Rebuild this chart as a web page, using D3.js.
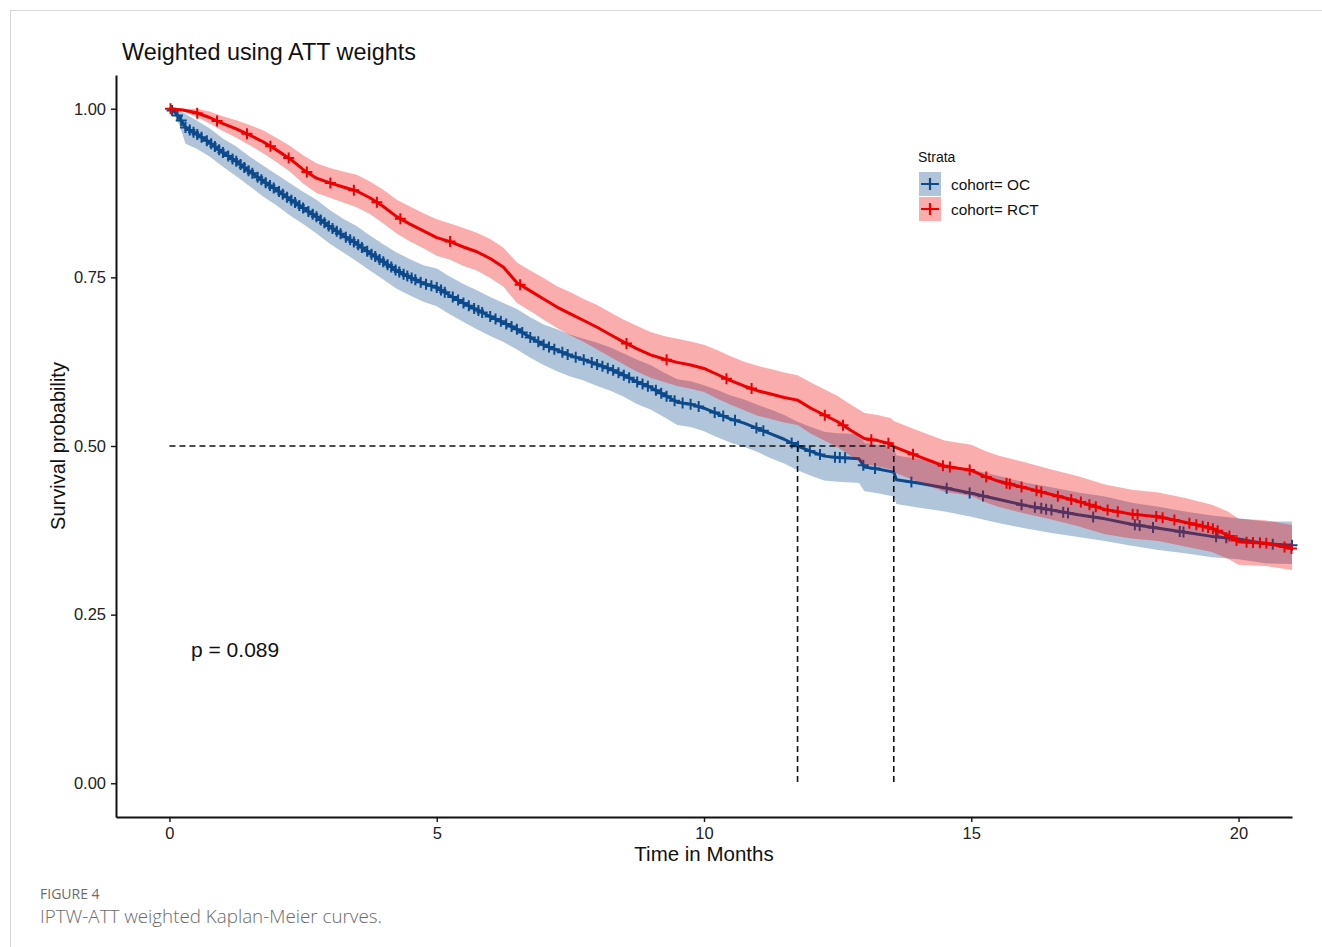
<!DOCTYPE html>
<html lang="en">
  <head>
    <meta charset="UTF-8" />
    <title>IPTW-ATT weighted Kaplan-Meier curves</title>
    <style type="text/css">
      html,
      body {
        margin: 0;
        padding: 0;
        background: #fff;
      }

      svg {
        display: block;
        font-family: "Liberation Sans", Arial, sans-serif;
      }

      .caption {
        font-family: "Open Sans", sans-serif;
        fill: #6b6b6b;
      }
    </style>
  </head>
  <body>
    <svg id="chart" width="1322" height="947"></svg>

    <script src="https://cdn.jsdelivr.net/npm/d3@7"></script>
    <script>
      // === Data === //

      var ocTime = [0, 0.1, 0.2, 0.3, 0.5, 0.75, 1, 1.25, 1.5, 1.75, 2, 2.25, 2.5, 2.75, 3, 3.25, 3.5, 3.75, 4, 4.25, 4.5, 4.75, 5, 5.25, 5.5, 5.75, 6, 6.25, 6.5, 6.75, 7, 7.25, 7.5, 7.75, 8, 8.25, 8.5, 8.75, 9, 9.25, 9.5, 9.75, 10, 10.25, 10.5, 10.75, 11, 11.25, 11.5, 11.75, 12, 12.25, 12.5, 12.75, 12.9, 13, 13.25, 13.5, 13.55, 13.6, 14, 14.5, 15, 15.5, 16, 16.5, 17, 17.5, 18, 18.5, 19, 19.5, 20, 20.5, 21];
      var ocSurv = [1, 0.995, 0.985, 0.972, 0.963, 0.95, 0.935, 0.922, 0.907, 0.893, 0.88, 0.866, 0.853, 0.84, 0.825, 0.812, 0.8, 0.786, 0.773, 0.76, 0.75, 0.741, 0.735, 0.723, 0.712, 0.702, 0.692, 0.683, 0.673, 0.661, 0.65, 0.642, 0.634, 0.628, 0.621, 0.614, 0.605, 0.595, 0.587, 0.576, 0.565, 0.562, 0.556, 0.548, 0.54, 0.534, 0.526, 0.518, 0.51, 0.5, 0.492, 0.485, 0.483, 0.482, 0.481, 0.469, 0.466, 0.462, 0.461, 0.45, 0.445, 0.438, 0.43, 0.421, 0.412, 0.405, 0.398, 0.392, 0.384, 0.378, 0.372, 0.366, 0.362, 0.355, 0.353];
      var ocLower = [1, 0.99, 0.973, 0.948, 0.941, 0.929, 0.914, 0.9, 0.885, 0.87, 0.857, 0.842, 0.829, 0.815, 0.8, 0.787, 0.774, 0.76, 0.747, 0.733, 0.723, 0.714, 0.707, 0.695, 0.684, 0.673, 0.663, 0.654, 0.643, 0.631, 0.62, 0.611, 0.603, 0.597, 0.589, 0.582, 0.573, 0.562, 0.554, 0.543, 0.531, 0.528, 0.522, 0.513, 0.505, 0.499, 0.491, 0.482, 0.474, 0.464, 0.456, 0.449, 0.447, 0.446, 0.445, 0.433, 0.43, 0.426, 0.425, 0.414, 0.409, 0.403, 0.395, 0.386, 0.378, 0.371, 0.365, 0.359, 0.352, 0.346, 0.341, 0.335, 0.332, 0.326, 0.325];
      var ocUpper = [1, 1, 0.997, 0.992, 0.983, 0.971, 0.956, 0.944, 0.929, 0.916, 0.903, 0.89, 0.877, 0.865, 0.85, 0.837, 0.826, 0.812, 0.799, 0.787, 0.777, 0.768, 0.763, 0.751, 0.74, 0.731, 0.721, 0.712, 0.703, 0.691, 0.68, 0.673, 0.665, 0.659, 0.653, 0.646, 0.637, 0.628, 0.62, 0.609, 0.599, 0.596, 0.59, 0.583, 0.575, 0.569, 0.561, 0.554, 0.546, 0.536, 0.528, 0.521, 0.519, 0.518, 0.517, 0.505, 0.502, 0.498, 0.497, 0.486, 0.481, 0.473, 0.465, 0.456, 0.446, 0.439, 0.431, 0.425, 0.416, 0.41, 0.403, 0.397, 0.393, 0.388, 0.388];
      var ocCensor = [0.05, 0.15, 0.22, 0.3, 0.38, 0.45, 0.52, 0.6, 0.7, 0.78, 0.85, 0.93, 1, 1.1, 1.18, 1.25, 1.33, 1.4, 1.48, 1.55, 1.65, 1.72, 1.8, 1.88, 1.95, 2.05, 2.12, 2.2, 2.28, 2.35, 2.43, 2.5, 2.6, 2.68, 2.75, 2.83, 2.9, 2.98, 3.05, 3.13, 3.2, 3.3, 3.38, 3.45, 3.53, 3.6, 3.7, 3.78, 3.85, 3.93, 4, 4.08, 4.15, 4.23, 4.3, 4.38, 4.45, 4.53, 4.6, 4.7, 4.8, 4.9, 5, 5.08, 5.15, 5.3, 5.4, 5.5, 5.6, 5.7, 5.78, 5.85, 6, 6.1, 6.2, 6.3, 6.4, 6.5, 6.6, 6.75, 6.9, 7, 7.1, 7.2, 7.35, 7.45, 7.6, 7.75, 7.9, 8, 8.1, 8.2, 8.3, 8.4, 8.5, 8.6, 8.75, 8.85, 8.95, 9.1, 9.2, 9.3, 9.45, 9.6, 9.75, 9.9, 10.2, 10.36, 10.58, 10.98, 11.11, 11.64, 11.76, 11.98, 12.17, 12.45, 12.54, 12.64, 12.98, 13.2, 13.88, 14.54, 14.97, 15.22, 15.94, 16.19, 16.31, 16.4, 16.5, 16.72, 16.81, 17.28, 18.06, 18.15, 18.4, 18.9, 18.97, 19.58, 19.77, 20.64, 21];

      var rctTime = [0, 0.25, 0.5, 0.75, 1, 1.25, 1.5, 1.75, 2, 2.25, 2.5, 2.75, 3, 3.25, 3.5, 3.75, 4, 4.25, 4.5, 4.75, 5, 5.25, 5.5, 5.75, 6, 6.25, 6.5, 6.75, 7, 7.25, 7.5, 7.75, 8, 8.25, 8.5, 8.75, 9, 9.25, 9.5, 9.75, 10, 10.25, 10.5, 10.75, 11, 11.25, 11.5, 11.75, 12, 12.25, 12.5, 12.75, 13, 13.25, 13.5, 13.55, 14, 14.5, 15, 15.25, 15.5, 16, 16.5, 17, 17.5, 18, 18.5, 19, 19.5, 19.8, 20, 20.5, 21];
      var rctSurv = [1, 0.998, 0.994, 0.987, 0.978, 0.97, 0.961, 0.951, 0.939, 0.926, 0.91, 0.897, 0.89, 0.884, 0.878, 0.868, 0.855, 0.84, 0.829, 0.819, 0.809, 0.803, 0.795, 0.788, 0.778, 0.765, 0.742, 0.73, 0.718, 0.706, 0.696, 0.686, 0.676, 0.665, 0.654, 0.644, 0.635, 0.629, 0.624, 0.62, 0.615, 0.606, 0.597, 0.589, 0.582, 0.577, 0.572, 0.568, 0.556, 0.546, 0.536, 0.523, 0.511, 0.508, 0.503, 0.499, 0.485, 0.47, 0.464, 0.455, 0.448, 0.438, 0.428, 0.418, 0.406, 0.399, 0.395, 0.387, 0.378, 0.368, 0.358, 0.356, 0.348];
      var rctLower = [1, 0.996, 0.988, 0.978, 0.967, 0.957, 0.946, 0.934, 0.921, 0.907, 0.889, 0.875, 0.868, 0.861, 0.854, 0.844, 0.83, 0.815, 0.803, 0.793, 0.782, 0.776, 0.767, 0.76, 0.749, 0.736, 0.712, 0.7, 0.687, 0.675, 0.664, 0.654, 0.643, 0.632, 0.621, 0.61, 0.601, 0.595, 0.589, 0.585, 0.58, 0.57, 0.561, 0.553, 0.545, 0.54, 0.535, 0.531, 0.518, 0.508, 0.498, 0.485, 0.473, 0.47, 0.465, 0.461, 0.447, 0.432, 0.426, 0.417, 0.41, 0.4, 0.391, 0.381, 0.369, 0.363, 0.359, 0.351, 0.343, 0.333, 0.324, 0.322, 0.316];
      var rctUpper = [1, 1, 1, 0.996, 0.989, 0.983, 0.976, 0.968, 0.957, 0.945, 0.931, 0.919, 0.912, 0.907, 0.902, 0.892, 0.88, 0.865, 0.855, 0.845, 0.836, 0.83, 0.823, 0.816, 0.807, 0.794, 0.772, 0.76, 0.749, 0.737, 0.728, 0.718, 0.709, 0.698, 0.687, 0.678, 0.669, 0.663, 0.659, 0.655, 0.65, 0.642, 0.633, 0.625, 0.619, 0.614, 0.609, 0.605, 0.594, 0.584, 0.574, 0.561, 0.549, 0.546, 0.541, 0.537, 0.523, 0.508, 0.502, 0.493, 0.486, 0.476, 0.465, 0.455, 0.443, 0.435, 0.431, 0.423, 0.413, 0.403, 0.392, 0.39, 0.383];
      var rctCensor = [0.02, 0.52, 0.89, 1.45, 1.89, 2.23, 2.57, 3.01, 3.45, 3.88, 4.32, 5.25, 6.56, 8.55, 9.3, 10.42, 10.89, 12.26, 12.6, 13.13, 13.45, 13.91, 14.47, 14.6, 14.97, 15.28, 15.66, 15.72, 15.94, 16.22, 16.31, 16.62, 16.87, 17.05, 17.21, 17.33, 17.55, 17.74, 18.02, 18.11, 18.46, 18.58, 18.8, 19.08, 19.21, 19.33, 19.43, 19.52, 19.61, 19.83, 19.96, 20.15, 20.27, 20.4, 20.52, 20.86, 20.99];

      var medianTimes = [11.75, 13.55];
      var xTicks = [0, 5, 10, 15, 20];
      var yTicks = [0, 0.25, 0.5, 0.75, 1];
      var strataLabels = ["cohort= OC", "cohort= RCT"];
      var pLabel = "p = 0.089";

      // === Set up === //

      var svg = d3.select("#chart");

      var x = d3.scaleLinear().domain([-1, 21]).range([116, 1292]);
      var y = d3.scaleLinear().domain([-0.05, 1.05]).range([817, 75]);

      var strata = [
        { time: ocTime, surv: ocSurv, lower: ocLower, upper: ocUpper, censor: ocCensor, colour: "#0c4a8c", fill: "rgba(12,74,140,0.32)" },
        { time: rctTime, surv: rctSurv, lower: rctLower, upper: rctUpper, censor: rctCensor, colour: "#ee0000", fill: "rgba(238,0,0,0.32)" }
      ];

      // page frame
      svg.append("line").attr("x1", 10).attr("x2", 1322).attr("y1", 10.5).attr("y2", 10.5)
        .attr("stroke", "#d6d6d6").attr("stroke-width", 1);
      svg.append("line").attr("x1", 10.5).attr("x2", 10.5).attr("y1", 10).attr("y2", 947)
        .attr("stroke", "#d6d6d6").attr("stroke-width", 1);

      // title
      svg.append("text").attr("x", 122).attr("y", 60)
        .attr("font-size", 23.4).attr("fill", "#111")
        .text("Weighted using ATT weights");

      // === Curves === //

      function survAt(d, t) {
        // value on the drawn curve at time t
        var i = d3.bisectRight(d.time, t) - 1;
        if (i < 0) return d.surv[0];
        if (i >= d.time.length - 1) return d.surv[d.time.length - 1];
        var f = (t - d.time[i]) / (d.time[i + 1] - d.time[i]);
        return d.surv[i] + f * (d.surv[i + 1] - d.surv[i]);
      }

      function plusPath(px, py, r) {
        return "M" + (px - r) + "," + py + "H" + (px + r) + "M" + px + "," + (py - r) + "V" + (py + r);
      }

      strata.forEach(function(d) {
        var idx = d3.range(d.time.length);

        var area = d3.area()
          .x(function(i) { return x(d.time[i]); })
          .y0(function(i) { return y(d.lower[i]); })
          .y1(function(i) { return y(d.upper[i]); });

        var line = d3.line()
          .x(function(i) { return x(d.time[i]); })
          .y(function(i) { return y(d.surv[i]); });

        svg.append("path").datum(idx)
          .attr("d", area)
          .attr("fill", d.fill);

        svg.append("path").datum(idx)
          .attr("d", line)
          .attr("fill", "none")
          .attr("stroke", d.colour)
          .attr("stroke-width", 3)
          .attr("stroke-linejoin", "round");

        svg.append("path")
          .attr("d", d.censor.map(function(t) { return plusPath(x(t), y(survAt(d, t)), 5.5); }).join(""))
          .attr("fill", "none")
          .attr("stroke", d.colour)
          .attr("stroke-width", 2);
      });

      // median lines
      var dash = svg.append("g")
        .attr("stroke", "#111")
        .attr("stroke-width", 1.6)
        .attr("stroke-dasharray", "6,4")
        .attr("fill", "none");

      dash.append("line")
        .attr("x1", x(0)).attr("x2", x(d3.max(medianTimes)))
        .attr("y1", y(0.5)).attr("y2", y(0.5));

      dash.selectAll("line.v").data(medianTimes).enter().append("line")
        .attr("class", "v")
        .attr("x1", function(d) { return x(d); }).attr("x2", function(d) { return x(d); })
        .attr("y1", y(0.5)).attr("y2", y(0));

      // === Axes === //

      var yAxis = svg.append("g")
        .attr("transform", "translate(116,0)")
        .call(d3.axisLeft(y).tickValues(yTicks).tickFormat(d3.format(".2f")).tickSize(5).tickSizeOuter(0).tickPadding(5));

      var xAxis = svg.append("g")
        .attr("transform", "translate(0,817)")
        .call(d3.axisBottom(x).tickValues(xTicks).tickSize(5).tickSizeOuter(0).tickPadding(5));

      [yAxis, xAxis].forEach(function(a) {
        a.select(".domain").attr("stroke", "#111").attr("stroke-width", 2);
        a.selectAll(".tick line").attr("stroke", "#111").attr("stroke-width", 1.4);
        a.selectAll(".tick text").attr("font-family", "Liberation Sans, Arial, sans-serif")
          .attr("font-size", 16.5).attr("fill", "#222");
      });

      svg.append("text")
        .attr("x", 704).attr("y", 861)
        .attr("text-anchor", "middle")
        .attr("font-size", 20.5).attr("fill", "#111")
        .text("Time in Months");

      svg.append("text")
        .attr("transform", "translate(65,446) rotate(-90)")
        .attr("text-anchor", "middle")
        .attr("font-size", 20).attr("fill", "#111")
        .text("Survival probability");

      svg.append("text")
        .attr("x", 191).attr("y", 657)
        .attr("font-size", 21).attr("fill", "#111")
        .text(pLabel);

      // === Legend === //

      var legend = svg.append("g").attr("transform", "translate(918,0)");

      legend.append("text").attr("x", 0).attr("y", 162)
        .attr("font-size", 14).attr("fill", "#111").text("Strata");

      strata.forEach(function(d, i) {
        var top = 172 + i * 25;
        legend.append("rect").attr("x", 1).attr("y", top).attr("width", 22).attr("height", 24)
          .attr("fill", d.fill);
        legend.append("path")
          .attr("d", "M3," + (top + 12) + "H21" + "M12," + (top + 6) + "V" + (top + 18))
          .attr("stroke", d.colour).attr("stroke-width", 2.2).attr("fill", "none");
        legend.append("text").attr("x", 33).attr("y", top + 18)
          .attr("font-size", 15.4).attr("fill", "#111").text(strataLabels[i]);
      });

      // === Caption === //

      svg.append("text").attr("class", "caption")
        .attr("x", 40).attr("y", 899)
        .attr("font-size", 14).attr("font-weight", 500)
        .text("FIGURE 4");

      svg.append("text").attr("class", "caption")
        .attr("x", 40).attr("y", 923)
        .attr("font-size", 18.8).attr("font-weight", 300)
        .text("IPTW-ATT weighted Kaplan-Meier curves.");
    </script>
  </body>
</html>
